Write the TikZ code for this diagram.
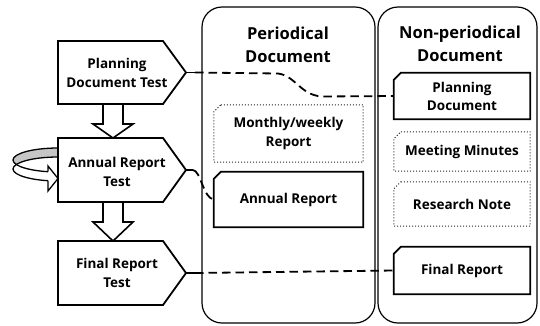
\documentclass[tikz,border=0pt]{standalone}
\usepackage{fontspec}
\setmainfont{Open Sans}
\usetikzlibrary{calc}

\tikzset{
  lbl/.style={font=\fontsize{13.5}{19.5}\selectfont\bfseries, align=center, inner sep=0pt},
  ttl/.style={font=\fontsize{16.5}{23.5}\selectfont\bfseries, align=center, inner sep=0pt},
  pent/.style={draw, line width=1.8pt, fill=white, line join=miter},
  stub/.style={line width=1.8pt},
  column/.style={draw, line width=1.2pt, rounded corners=20pt, inner sep=0pt},
  docsolid/.style={draw, line width=1.7pt, line join=miter},
  docdot/.style={draw=black!85, line width=1pt, dotted},
  link/.style={line width=1.8pt, dash pattern=on 8.5pt off 5pt},
  fatarrow/.style={draw, line width=1.6pt, fill=white, line join=miter},
  ring/.style={line width=1.3pt},
}

% chamfered document box drawn around a node
\newcommand\chamferbox[2]{%
  \draw[#1] ($(#2.north west)+(7,0)$) -- (#2.north east) -- (#2.south east)
    -- (#2.south west) -- ($(#2.north west)+(0,7)$) -- cycle;}

\begin{document}
\begin{tikzpicture}[x=1pt,y=-1pt]
\useasboundingbox (0,0) rectangle (540,325);

% ---- two document columns
\node[column, minimum width=173pt, minimum height=316pt] (per) at (288.5,165) {};
\node[column, minimum width=159pt, minimum height=316pt] (non) at (457.5,165) {};
\node[ttl] (perT) at (288,45) {Periodical\\Document};
\node[ttl] (nonT) at (460,44) {Non-periodical\\Document};

% ---- rotating ring arrow behind the annual test
\fill[gray!45] (58,148) .. controls (33.2,148) and (13,153.4) .. (13,160)
   .. controls (13,166.6) and (33.2,172) .. (58,172) -- cycle;
\fill[white] (58,157) .. controls (33.2,157) and (13,162.4) .. (13,169)
   .. controls (13,175.6) and (33.2,181) .. (58,181) -- cycle;
\draw[ring] (58,148) .. controls (33.2,148) and (13,153.4) .. (13,160);
\draw[ring] (58,157) .. controls (33.2,157) and (13,162.4) .. (13,169);
\begin{scope}
  \clip (0,150) rectangle (48,200);
  \draw[ring] (13,160) .. controls (13,166.6) and (33.2,172) .. (58,172);
  \draw[ring] (13,169) .. controls (13,175.6) and (33.2,181) .. (58,181);
\end{scope}
\draw[ring, fill=white, line join=miter] (48,171.7) -- (48,166) -- (58,178.5) -- (48,191) -- (48,180.7);

% ---- test boxes (arrow-shaped)
\draw[pent] (58,41) -- (163,41) -- (186,72.5) -- (163,104) -- (58,104) -- cycle;
\draw[pent] (58,138) -- (163,138) -- (186,170) -- (163,202) -- (58,202) -- cycle;
\draw[pent] (58,241) -- (163,241) -- (186,273) -- (163,305) -- (58,305) -- cycle;
\coordinate (pdtTip) at (186,72.5);
\coordinate (artTip) at (186,170);
\coordinate (frtTip) at (186,273);
\node[lbl] (pdt) at (117,73) {Planning\\Document Test};
\node[lbl] (art) at (117,172) {Annual Report\\Test};
\node[lbl] (frt) at (117,273) {Final Report\\Test};

% ---- hollow arrows between the tests
\draw[fatarrow] (103,104) -- (123,104) -- (123,124) -- (133,124) -- (113,138)
   -- (93,124) -- (103,124) -- cycle;
\draw[fatarrow] (103,202) -- (123,202) -- (123,222) -- (133,222) -- (113,241)
   -- (93,222) -- (103,222) -- cycle;

% ---- documents
\node[lbl, minimum width=149pt, minimum height=57pt] (mw) at (288.5,133.5) {Monthly/weekly\\Report};
\chamferbox{docdot}{mw}
\node[lbl, minimum width=149pt, minimum height=55pt] (ar) at (288.5,199.5) {Annual Report};
\chamferbox{docsolid}{ar}

\node[lbl, minimum width=136pt, minimum height=46pt, font=\fontsize{13.5}{18}\selectfont\bfseries] (pd) at (462,96) {Planning\\Document};
\chamferbox{docsolid}{pd}
\node[lbl, minimum width=136pt, minimum height=39pt] (mm) at (462,151.5) {Meeting Minutes};
\chamferbox{docdot}{mm}
\node[lbl, minimum width=136pt, minimum height=44pt] (rn) at (462,204) {Research Note};
\chamferbox{docdot}{rn}
\node[lbl, minimum width=136pt, minimum height=47pt] (fr) at (462,270.5) {Final Report};
\chamferbox{docsolid}{fr}

% ---- links from tests to documents
\coordinate (pdtEnd) at (195,72.5);
\coordinate (artEnd) at (193,170);
\coordinate (frtEnd) at (195,273);
\draw[stub] (pdtTip) -- (pdtEnd);
\draw[stub] (artTip) -- (artEnd);
\draw[stub] (frtTip) -- (frtEnd);
\draw[link] (pdtEnd) -- (278,73.5) .. controls (296,76) and (300,95) .. (322,96.5) -- (pd.west);
\draw[link] (artEnd) .. controls (201,171) and (203,198) .. (ar.west);
\draw[link] (frtEnd) -- (fr.west);
\end{tikzpicture}
\end{document}
